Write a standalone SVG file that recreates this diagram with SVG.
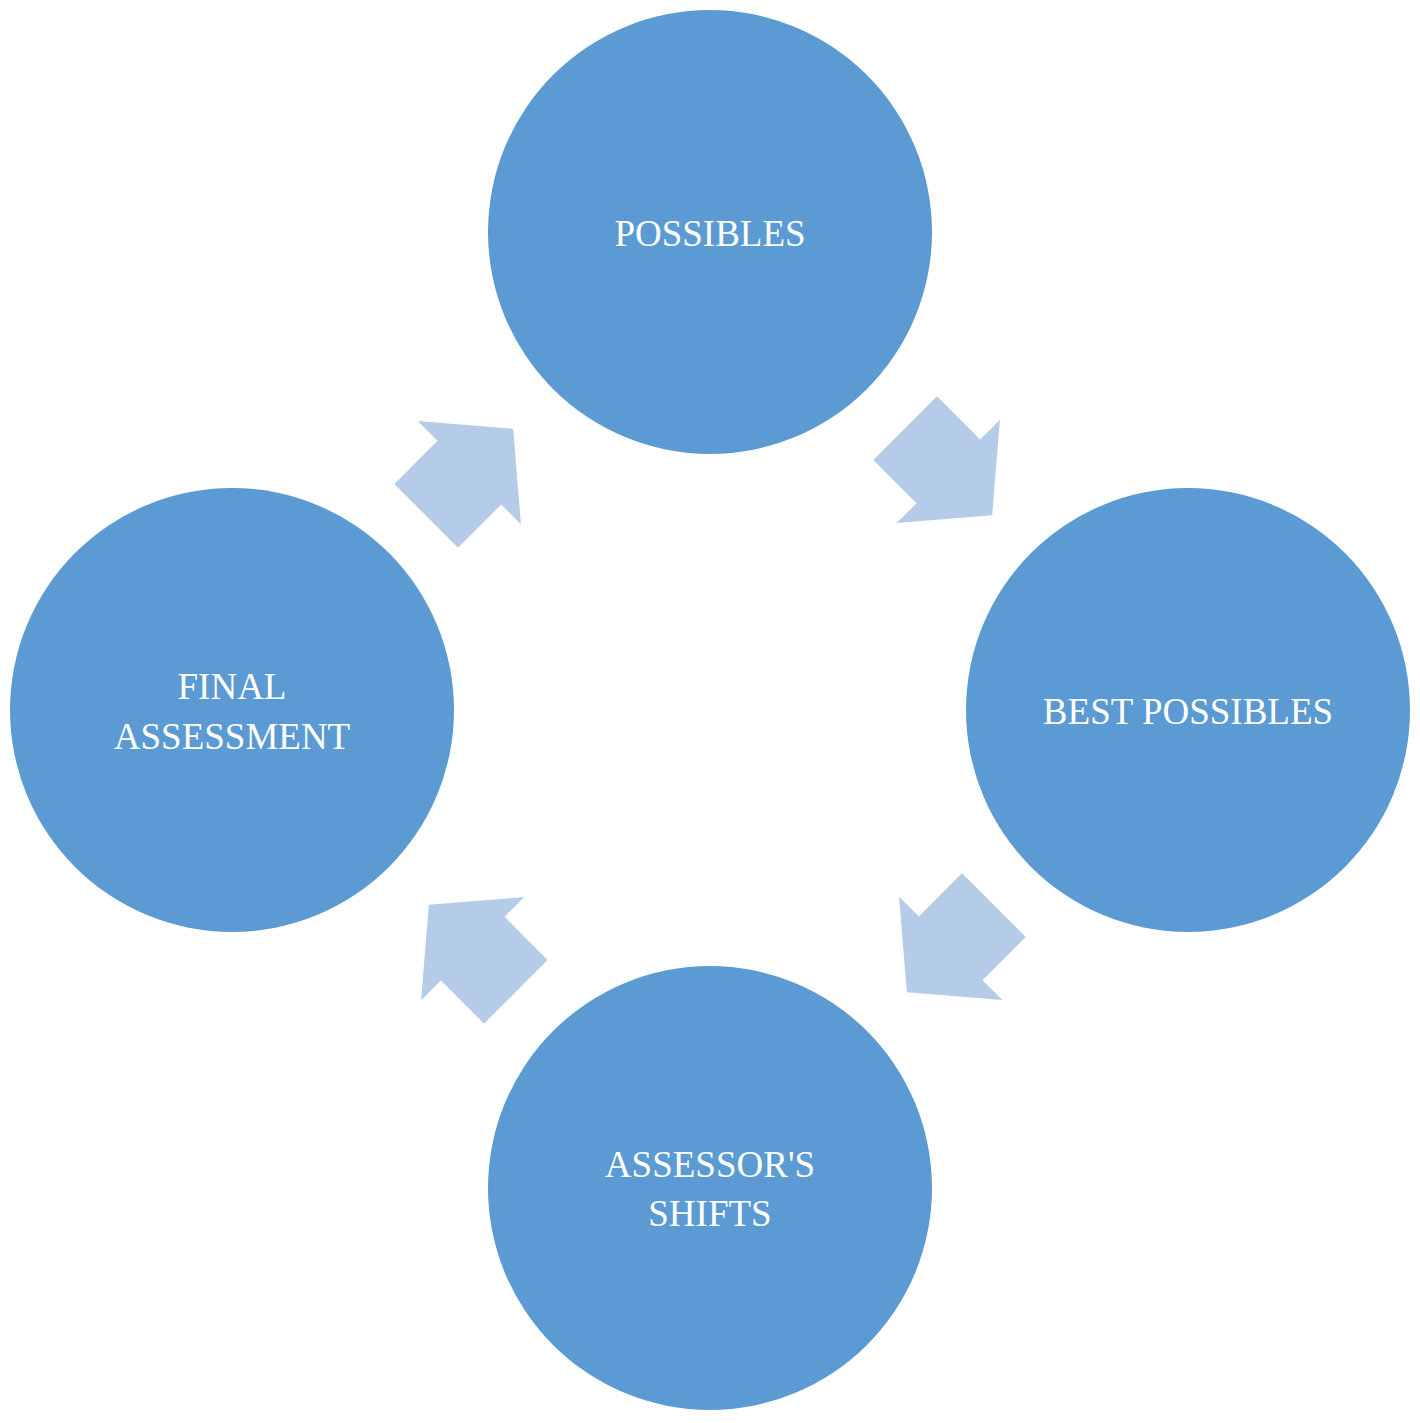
<svg xmlns="http://www.w3.org/2000/svg" width="1420" height="1423" viewBox="0 0 1420 1423">
<style>
.n{fill:#5B9AD2}
.t{fill:#fff;font-family:"Liberation Serif",serif;font-size:37px;text-anchor:middle}
.a{fill:#B4CCE7}
</style>
<defs><path id="arr" d="M-45,-45 L16,-45 L16,-73 L78,0 L16,73 L16,45 L-45,45 Z"/></defs>
<rect width="1420" height="1423" fill="#fff"/>
<g id="connectors">
<use href="#arr" class="a" transform="translate(937,460) rotate(45)"/>
<use href="#arr" class="a" transform="translate(962,937) rotate(135)"/>
<use href="#arr" class="a" transform="translate(484,960) rotate(225)"/>
<use href="#arr" class="a" transform="translate(458,484) rotate(-45)"/>
</g>
<g id="possibles"><circle class="n" cx="710" cy="232" r="222"/><text class="t" x="710" y="246">POSSIBLES</text></g>
<g id="best"><circle class="n" cx="1188" cy="710" r="222"/><text class="t" x="1188" y="724">BEST POSSIBLES</text></g>
<g id="shifts"><circle class="n" cx="710" cy="1188" r="222"/><text class="t" x="710" y="1177">ASSESSOR'S</text><text class="t" x="710" y="1226">SHIFTS</text></g>
<g id="final"><circle class="n" cx="232" cy="710" r="222"/><text class="t" x="232" y="699">FINAL</text><text class="t" x="232" y="749">ASSESSMENT</text></g>
</svg>
